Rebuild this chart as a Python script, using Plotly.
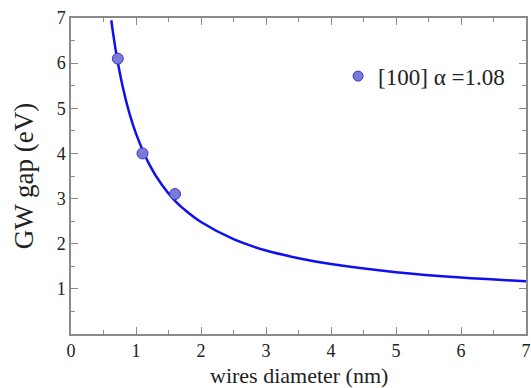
import plotly.graph_objects as go

# data points
diam = [0.72, 1.1, 1.6]
gap = [6.1, 4.0, 3.1]

# fitted curve
curve_d = [0.62, 0.65, 0.7, 0.8, 0.9, 1.0, 1.2, 1.4, 1.6, 1.8, 2.0, 2.5, 3.0, 3.5, 4.0, 5.0, 6.0, 7.0]
curve_e = [6.95, 6.64, 6.18, 5.45, 4.88, 4.44, 3.77, 3.30, 2.95, 2.69, 2.48, 2.10, 1.85, 1.68, 1.55, 1.37, 1.25, 1.17]

legend_label = "[100] α =1.08"
x_title = "wires diameter (nm)"
y_title = "GW gap (eV)"
x_ticks = [0, 1, 2, 3, 4, 5, 6, 7]
y_ticks = [1, 2, 3, 4, 5, 6, 7]

font = "Liberation Serif"
frame = "#8a8a8a"

fig = go.Figure()
fig.add_trace(go.Scatter(x=curve_d, y=curve_e, mode="lines", line=dict(color="#1010ee", width=2.5, shape="spline"),
                         showlegend=False, hoverinfo="skip"))
fig.add_trace(go.Scatter(x=diam, y=gap, mode="markers",
                         marker=dict(size=11, color="#7a7ad8", line=dict(color="#3434d0", width=1)),
                         showlegend=False))
fig.add_trace(go.Scatter(x=[None], y=[None], mode="markers", name=legend_label,
                         marker=dict(size=10, color="#7a7ad8", line=dict(color="#3434d0", width=1))))

axis_common = dict(showline=True, linecolor=frame, linewidth=1.5, mirror="allticks",
                   ticks="inside", ticklen=7, tickcolor=frame, tickwidth=1.2,
                   showgrid=False, zeroline=False,
                   tickfont=dict(family=font, size=18, color="#222"),
                   minor=dict(ticks="inside", ticklen=4, tickcolor=frame, dtick=0.5, showgrid=False))

fig.update_xaxes(range=[0, 7], tickvals=x_ticks, **axis_common)
fig.update_yaxes(range=[0, 7], tickvals=y_ticks, **axis_common,
                 title=dict(text=y_title, font=dict(family=font, size=27, color="#222")))

fig.add_annotation(text=x_title, xref="paper", yref="paper", x=0.5, y=-0.1313,
                   xanchor="center", yanchor="middle", showarrow=False,
                   font=dict(family=font, size=22, color="#222"))

fig.update_layout(width=531, height=388, margin=dict(l=71, r=5, t=18, b=54, autoexpand=False),
                  paper_bgcolor="white", plot_bgcolor="white",
                  legend=dict(x=0.587, y=0.816, xanchor="left", yanchor="middle",
                              bgcolor="rgba(0,0,0,0)", font=dict(family=font, size=23, color="#222")))

fig.write_html("out.html", config={"displayModeBar": False},
               post_script="document.body.style.margin='0';")
